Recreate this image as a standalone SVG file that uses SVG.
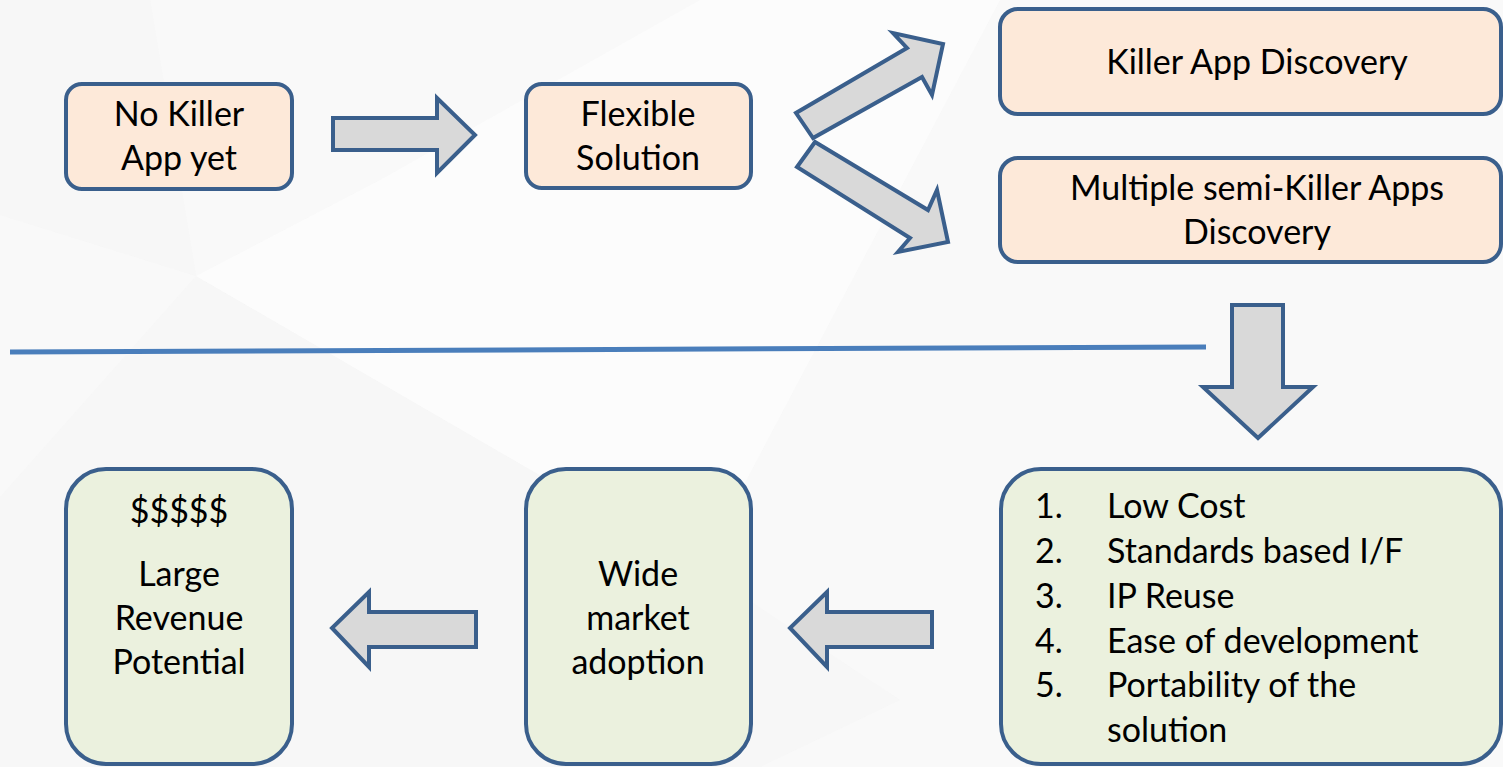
<svg xmlns="http://www.w3.org/2000/svg" width="1503" height="767" viewBox="0 0 1503 767">
<style>
.bg{fill:#f9f9f9}
.shade{fill:#f3f3f3;opacity:0.45}
.lite{fill:#fcfcfc;opacity:0.8}
.peach{fill:#fde9d9;stroke:#3a5f8c;stroke-width:4}
.green{fill:#ebf1de;stroke:#3a5f8c;stroke-width:4}
.arrow{fill:#d9d9d9;stroke:#3a5f8c;stroke-width:4;stroke-linejoin:miter}
text{font-family:Lato,"Liberation Sans",sans-serif;font-size:34px;fill:#000}
.c{text-anchor:middle}
</style>
<rect class="bg" x="0" y="0" width="1503" height="767"/>
<g id="background">
<polygon class="shade" points="196,276 0,497 0,767 760,767 900,700 700,568"/>
<polygon class="shade" points="0,0 150,0 196,276 0,215"/>
<polygon class="lite" points="196,276 380,180 700,0 1000,0 700,568"/>
</g>
<g id="connectors">
<line x1="10" y1="352" x2="1206" y2="347" stroke="#4a7ebb" stroke-width="5"/>
<polygon class="arrow" points="333,118 437,118 437,98 475,135 437,173 437,150 333,150"/>
<polygon class="arrow" points="813,138 796,113 907,48 893,33 943,44 932,95 922,77"/>
<polygon class="arrow" points="815,142 797,167 910,238 898,252 948,242 937,190 928,210"/>
<polygon class="arrow" points="1232,305 1283,305 1283,387 1313,387 1258,438 1203,387 1232,387"/>
<polygon class="arrow" points="932,612 827,612 827,592 790,628 827,667 827,647 932,647"/>
<polygon class="arrow" points="476,612 369,612 369,592 332,628 369,667 369,647 476,647"/>
</g>
<g id="node-no-killer">
<rect class="peach" x="66" y="84" width="226" height="105" rx="16"/>
<text class="c" x="179" y="126">No Killer</text>
<text class="c" x="179" y="170">App yet</text>
</g>
<g id="node-flexible">
<rect class="peach" x="526" y="84" width="225" height="104" rx="16"/>
<text class="c" x="638" y="126">Flexible</text>
<text class="c" x="638" y="170">Solution</text>
</g>
<g id="node-killer-app">
<rect class="peach" x="1000" y="9" width="501" height="105" rx="18"/>
<text class="c" x="1257" y="74">Killer App Discovery</text>
</g>
<g id="node-semi-killer">
<rect class="peach" x="1000" y="158" width="501" height="104" rx="18"/>
<text class="c" x="1257" y="200">Multiple semi-Killer Apps</text>
<text class="c" x="1257" y="244">Discovery</text>
</g>
<g id="node-list">
<rect class="green" x="1001" y="469" width="500" height="295" rx="40"/>
<text x="1035" y="518">1.</text><text x="1107" y="518">Low Cost</text>
<text x="1035" y="563">2.</text><text x="1107" y="563">Standards based I/F</text>
<text x="1035" y="608">3.</text><text x="1107" y="608">IP Reuse</text>
<text x="1035" y="653">4.</text><text x="1107" y="653">Ease of development</text>
<text x="1035" y="697">5.</text><text x="1107" y="697">Portability of the</text>
<text x="1107" y="742">solution</text>
</g>
<g id="node-wide-market">
<rect class="green" x="526" y="469" width="225" height="295" rx="40"/>
<text class="c" x="638" y="586">Wide</text>
<text class="c" x="638" y="630">market</text>
<text class="c" x="638" y="674">adoption</text>
</g>
<g id="node-revenue">
<rect class="green" x="66" y="469" width="226" height="295" rx="40"/>
<text class="c" x="179" y="523">$$$$$</text>
<text class="c" x="179" y="586">Large</text>
<text class="c" x="179" y="630">Revenue</text>
<text class="c" x="179" y="674">Potential</text>
</g>
</svg>
